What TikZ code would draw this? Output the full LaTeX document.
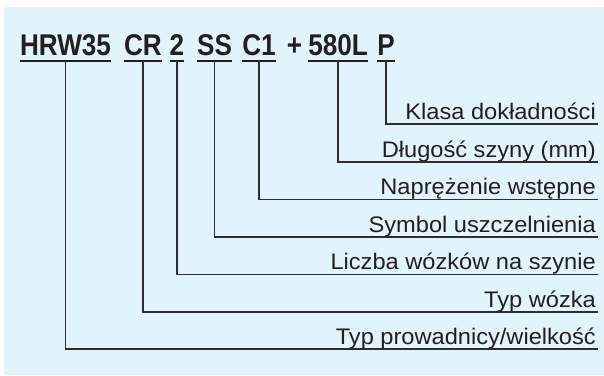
\documentclass[tikz,border=0pt]{standalone}
\usepackage{fontspec}
\usetikzlibrary{calc}
\setmainfont{Liberation Sans}
\newfontfamily\titlefont[FakeStretch=0.87]{Liberation Sans}
\newfontfamily\lblfont[FakeStretch=1.05]{Liberation Sans}
\definecolor{bg}{HTML}{E1F3FB}
\definecolor{ink}{HTML}{231F20}
\definecolor{ln}{HTML}{2E2E2E}
\begin{document}
\begin{tikzpicture}[x=1pt,y=-1pt,
 code/.style={anchor=base,inner sep=0pt,font=\titlefont\bfseries\fontsize{30}{30}\selectfont,text=ink},
 lbl/.style={anchor=base east,inner sep=0pt,font=\lblfont\fontsize{22.5}{23}\selectfont,text=ink},
 uline/.style={draw=ink,line width=1.5pt},
 conn/.style={draw=ln,line width=1.2pt}]
\useasboundingbox (0,0) rectangle (604,375);
\fill[bg] (4,7) rectangle (604,375);
% code tokens
\node[code] (hrw) at (65.5,55) {HRW35};
\node[code] (cr) at (143,55) {CR};
\node[code] (two) at (177,55) {2};
\node[code] (ss) at (214.5,55) {SS};
\node[code] (c1) at (259,55) {C1};
\node[code] (plus) at (294.5,55) {+};
\node[code] (len) at (338,55) {580L};
\node[code] (p) at (386,55) {P};
% underlines
\foreach \n in {hrw,cr,two,ss,c1,len,p}{
  \draw[uline] ($(\n.base west)+(0,6)$) -- ($(\n.base east)+(0,6)$);
}
% labels
\node[lbl] (lp) at (596,119) {Klasa dokładności};
\node[lbl] (llen) at (596,157) {Długość szyny (mm)};
\node[lbl] (lc1) at (596,194.5) {Naprężenie wstępne};
\node[lbl] (lss) at (596,232) {Symbol uszczelnienia};
\node[lbl] (ltwo) at (596,269.5) {Liczba wózków na szynie};
\node[lbl] (lcr) at (596,307) {Typ wózka};
\node[lbl] (lhrw) at (596,344) {Typ prowadnicy/wielkość};
% connectors
\draw[conn] ($(p.base)+(0,6)$) |- ($(lp.base east)+(2,5)$);
\draw[conn] ($(len.base)+(0,6)$) |- ($(llen.base east)+(2,5)$);
\draw[conn] ($(c1.base)+(0,6)$) |- ($(lc1.base east)+(2,5)$);
\draw[conn] ($(ss.base)+(0,6)$) |- ($(lss.base east)+(2,5)$);
\draw[conn] ($(two.base)+(0,6)$) |- ($(ltwo.base east)+(2,5)$);
\draw[conn] ($(cr.base)+(0,6)$) |- ($(lcr.base east)+(2,5)$);
\draw[conn] ($(hrw.base)+(0,6)$) |- ($(lhrw.base east)+(2,5)$);
\end{tikzpicture}
\end{document}
